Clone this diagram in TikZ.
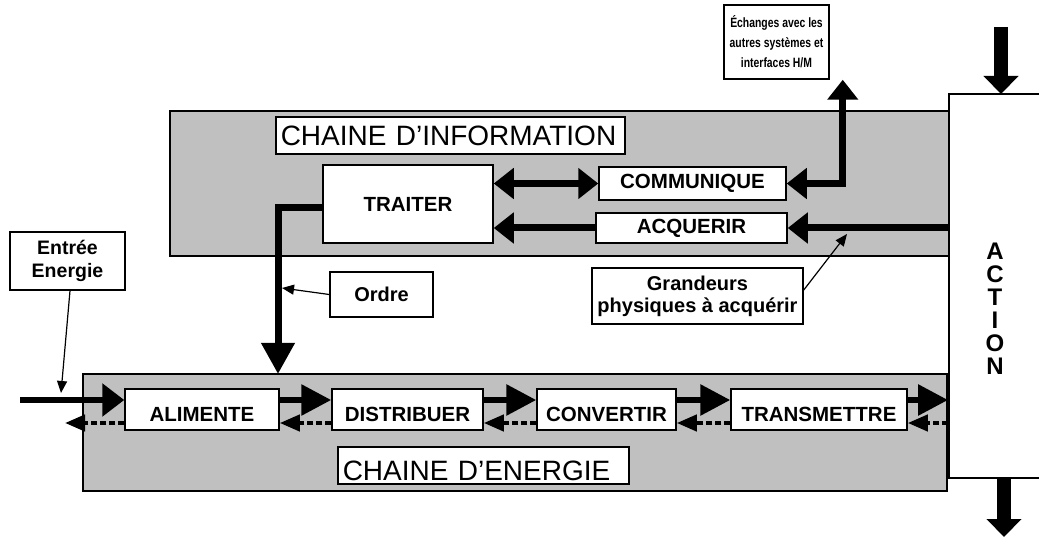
\documentclass[tikz,border=0pt]{standalone}
\usepackage{fontspec}
\setmainfont{Liberation Sans}
\usetikzlibrary{arrows.meta,positioning}
\definecolor{gris}{RGB}{192,192,192}
\newcommand{\serre}[1]{\scalebox{0.77}[1]{#1}}
\tikzset{cadre/.style={draw=black,line width=2pt,fill=gris,inner sep=0pt}}
\tikzset{bloc/.style={draw=black,line width=1.5pt,fill=white,inner sep=2pt,font=\bfseries\fontsize{20.5}{22}\selectfont}}
\tikzset{note/.style={draw=black,line width=1.5pt,fill=white,inner sep=2pt,align=center,font=\bfseries\fontsize{20}{22}\selectfont}}
\tikzset{etiquette/.style={draw=black,line width=1.5pt,fill=white,inner xsep=5pt,anchor=west,align=left,minimum height=37pt,font=\fontsize{28}{30}\selectfont}}
\tikzset{flux/.style={-{Triangle[length=30pt,width=30pt]},line width=6pt}}
\tikzset{retour/.style={-{Triangle[length=20pt,width=16pt]},line width=4pt,dash pattern=on 6pt off 3pt}}
\tikzset{liaison/.style={-{Triangle[length=20pt,width=30pt]},line width=7pt}}
\tikzset{liaisondouble/.style={{Triangle[length=20pt,width=30pt]}-{Triangle[length=20pt,width=30pt]},line width=7pt}}
\tikzset{grosse/.style={-{Triangle[length=18pt,width=34pt]},line width=14pt}}
\tikzset{fleche/.style={-{Triangle[length=12pt,width=10pt]},line width=1.2pt}}

\begin{document}
\begin{tikzpicture}[x=1pt,y=-1pt]
	\useasboundingbox (0,0) rectangle (1039,537);

	% les deux chaines
	\node[cadre,minimum width=779pt,minimum height=145pt] (chaineinfo) at (559.5,183.5) {};
	\node[cadre,minimum width=864pt,minimum height=117pt] (chaineenergie) at (515,432.5) {};
	\node[etiquette,text width=339pt] (titreinfo) at (275,135.5) {CHAINE D’INFORMATION};
	\node[etiquette,text width=281pt,text height=29pt,text depth=0pt,inner ysep=4pt] (titreenergie) at (337,465.5) {CHAINE D’ENERGIE};

	% action
	\coordinate (actionhaut) at (949,94);
	\coordinate (actionbas) at (949,478);
	\draw[line width=1.5pt,fill=white] (1039,94) -- (actionhaut) -- (actionbas) -- (1039,478);
	\node[font=\bfseries\fontsize{24}{23}\selectfont,align=center] (action) at (995,309) {A\\C\\T\\I\\O\\N};

	% chaine d'information
	\node[bloc,minimum width=170pt,minimum height=78pt] (traiter) at (408,204) {TRAITER};
	\node[bloc,minimum width=187pt,minimum height=33pt] (communique) at (692.5,183.5) {COMMUNIQUE};
	\node[bloc,minimum width=191pt,minimum height=30pt] (acquerir) at (691.5,228) {ACQUERIR};

	% chaine d'energie
	\node[bloc,minimum width=154pt,minimum height=41pt,text height=23pt,text depth=0pt] (alimente) at (202,409.5) {ALIMENTE};
	\node[bloc,minimum width=151pt,minimum height=41pt,text height=23pt,text depth=0pt] (distribuer) at (407.5,409.5) {DISTRIBUER};
	\node[bloc,minimum width=139pt,minimum height=41pt,text height=23pt,text depth=0pt] (convertir) at (606.5,409.5) {CONVERTIR};
	\node[bloc,minimum width=176pt,minimum height=41pt,text height=23pt,text depth=0pt] (transmettre) at (819,409.5) {TRANSMETTRE};

	% notes
	\node[note,minimum width=105pt,minimum height=74pt,font=\bfseries\fontsize{13.5}{20}\selectfont] (echanges) at (776.5,42) {\serre{Échanges avec les}\\\serre{autres systèmes et}\\\serre{interfaces H/M}};
	\node[note,minimum width=115pt,minimum height=58pt,font=\bfseries\fontsize{19.5}{23}\selectfont] (entree) at (67.5,261) {Entrée\\Energie};
	\node[note,minimum width=103pt,minimum height=45pt] (ordre) at (381.5,294.5) {Ordre};
	\node[note,minimum width=211pt,minimum height=56pt] (grandeurs) at (697.5,296) {Grandeurs\\physiques à acquérir};

	% liaisons de la chaine d'information
	\coordinate (sortieechanges) at ([xshift=13pt]echanges.south east);
	\coordinate (ordrebas) at (278,374);
	\draw[liaisondouble] (traiter.east |- communique.west) -- (communique.west);
	\draw[liaison] (acquerir.west) -- (acquerir.west -| traiter.east);
	\draw[liaison] (acquerir.east -| actionhaut) -- (acquerir.east);
	\draw[liaisondouble] (communique.east) -| (sortieechanges);
	\draw[liaison,-{Triangle[length=31pt,width=32pt]}] ([yshift=-4pt]traiter.west) -| (ordrebas);

	% flux d'energie
	\coordinate (debutentree) at (20,400);
	\coordinate (finretour) at (65,423);
	\draw[flux,-{Triangle[length=22pt,width=32pt]}] (debutentree) -- ([yshift=9.5pt]alimente.west);
	\draw[flux] ([yshift=9.5pt]alimente.east) -- ([yshift=9.5pt]distribuer.west);
	\draw[flux] ([yshift=9.5pt]distribuer.east) -- ([yshift=9.5pt]convertir.west);
	\draw[flux] ([yshift=9.5pt]convertir.east) -- ([yshift=9.5pt]transmettre.west);
	\draw[flux] ([yshift=9.5pt]transmettre.east) -- ([yshift=9.5pt]transmettre.east -| chaineenergie.east);
	\draw[retour] ([yshift=-13.5pt]transmettre.east -| chaineenergie.east) -- ([yshift=-13.5pt]transmettre.east);
	\draw[retour] ([yshift=-13.5pt]transmettre.west) -- ([yshift=-13.5pt]convertir.east);
	\draw[retour] ([yshift=-13.5pt]convertir.west) -- ([yshift=-13.5pt]distribuer.east);
	\draw[retour] ([yshift=-13.5pt]distribuer.west) -- ([yshift=-13.5pt]alimente.east);
	\draw[retour] ([yshift=-13.5pt]alimente.west) -- (finretour);

	% fleches de l'action
	\coordinate (hautfleche) at (1001,27);
	\coordinate (basaction) at (1004,478);
	\coordinate (basfleche) at (1004,537);
	\draw[grosse] (hautfleche) -- (hautfleche |- actionhaut);
	\draw[grosse] (basaction) -- (basfleche);

	% renvois des notes
	\coordinate (pointordre) at (282,288);
	\coordinate (pointgrandeurs) at (847,234);
	\coordinate (pointentree) at (61,393);
	\draw[fleche] (ordre.west) -- (pointordre);
	\draw[fleche] ([yshift=6pt]grandeurs.east) -- (pointgrandeurs);
	\draw[fleche] ([xshift=2.5pt]entree.south) -- (pointentree);
\end{tikzpicture}
\end{document}
